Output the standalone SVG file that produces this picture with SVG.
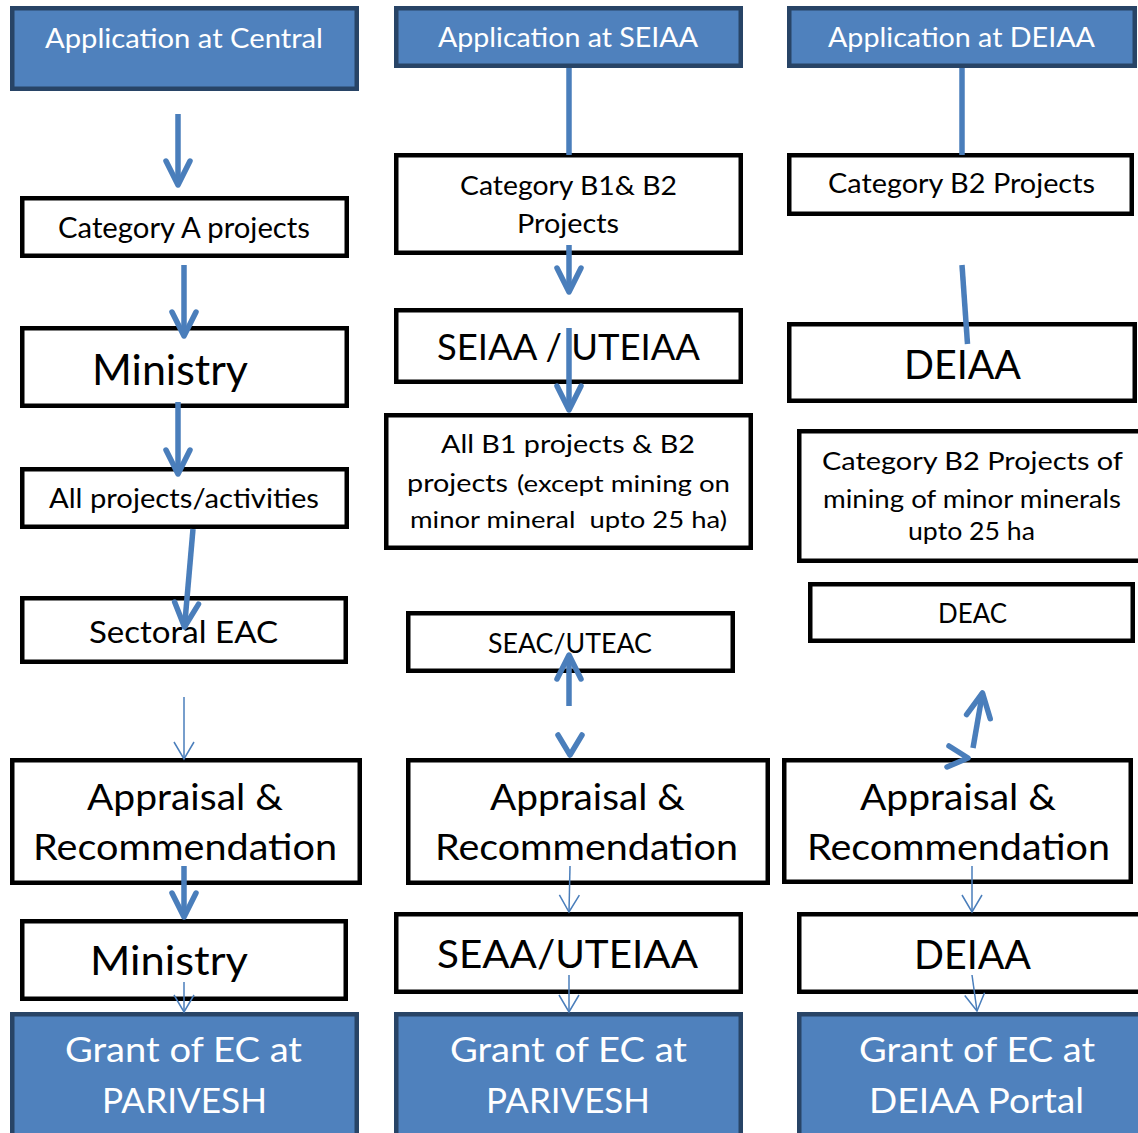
<svg xmlns="http://www.w3.org/2000/svg" width="1138" height="1133" viewBox="0 0 1138 1133">
<style>
.bl{fill:#4F81BD;stroke:#284466;stroke-width:4.5}
.bx{fill:#fff;stroke:#000;stroke-width:4.5}
text{font-family:Lato,"Open Sans","Liberation Sans",sans-serif;fill:#000}
text.w{fill:#fff}
.tk{stroke:#4A7EBB;stroke-width:5.5;fill:none;stroke-linecap:butt;stroke-linejoin:round}
.tn{stroke:#4A7EBB;stroke-width:1.5;fill:none}
.ch{stroke:#4A7EBB;stroke-width:5.5;fill:none;stroke-linecap:round;stroke-linejoin:round}
</style>
<defs>
<marker id="ak" markerUnits="userSpaceOnUse" viewBox="-30 -16 34 32" markerWidth="34" markerHeight="32" refX="0" refY="0" orient="auto" overflow="visible">
<path d="M-24,-12 L0,0 L-24,12" fill="none" stroke="#4A7EBB" stroke-width="5.5" stroke-linecap="round" stroke-linejoin="round"/>
</marker>
<marker id="an" markerUnits="userSpaceOnUse" viewBox="-20 -12 22 24" markerWidth="22" markerHeight="24" refX="0" refY="0" orient="auto" overflow="visible">
<path d="M-17,-10 L0,0 L-17,10" fill="none" stroke="#4A7EBB" stroke-width="1.5"/>
</marker>
</defs>
<rect width="1138" height="1133" fill="#fff"/>

<g id="n1"><rect class="bl" x="12.25" y="8.25" width="344.5" height="80.5"/><text class="w" x="45" y="48" font-size="27" textLength="278" lengthAdjust="spacingAndGlyphs">Application at Central</text></g>
<g id="n2"><rect class="bx" x="22.25" y="198.25" width="324.5" height="57.5"/><text x="58" y="238" font-size="28" textLength="252" lengthAdjust="spacingAndGlyphs">Category A projects</text></g>
<g id="n3"><rect class="bx" x="22.25" y="328.25" width="324.5" height="77.5"/><text x="92" y="385" font-size="42" textLength="156" lengthAdjust="spacingAndGlyphs">Ministry</text></g>
<g id="n4"><rect class="bx" x="22.25" y="469.25" width="324.5" height="57.5"/><text x="49" y="508" font-size="27" textLength="270" lengthAdjust="spacingAndGlyphs">All projects/activities</text></g>
<g id="n5"><rect class="bx" x="22.25" y="598.25" width="323.5" height="63.5"/><text x="89" y="643" font-size="31" textLength="189" lengthAdjust="spacingAndGlyphs">Sectoral EAC</text></g>
<g id="n6"><rect class="bx" x="12.25" y="760.25" width="347.5" height="122.5"/><text x="87" y="810" font-size="36" textLength="196" lengthAdjust="spacingAndGlyphs">Appraisal &amp;</text><text x="33" y="860" font-size="36" textLength="304" lengthAdjust="spacingAndGlyphs">Recommendation</text></g>
<g id="n7"><rect class="bx" x="22.25" y="921.25" width="323.5" height="77.5"/><text x="90" y="975" font-size="40" textLength="158" lengthAdjust="spacingAndGlyphs">Ministry</text></g>
<g id="n8"><rect class="bl" x="12.25" y="1014.25" width="344.5" height="130"/><text class="w" x="65" y="1062" font-size="35" textLength="237" lengthAdjust="spacingAndGlyphs">Grant of EC at</text><text class="w" x="102" y="1113" font-size="35" textLength="165" lengthAdjust="spacingAndGlyphs">PARIVESH</text></g>

<g id="n9"><rect class="bl" x="396.25" y="8.25" width="344.5" height="57.5"/><text class="w" x="438" y="47" font-size="27" textLength="260" lengthAdjust="spacingAndGlyphs">Application at SEIAA</text></g>
<g id="n10"><rect class="bx" x="396.25" y="155.25" width="344.5" height="97.5"/><text x="460" y="195" font-size="26.5" textLength="217" lengthAdjust="spacingAndGlyphs">Category B1&amp; B2</text><text x="517" y="233" font-size="26.5" textLength="102" lengthAdjust="spacingAndGlyphs">Projects</text></g>
<g id="n11"><rect class="bx" x="396.25" y="310.25" width="344.5" height="71.5"/><text x="437" y="360" font-size="37" textLength="263" lengthAdjust="spacingAndGlyphs">SEIAA / UTEIAA</text></g>
<g id="n12"><rect class="bx" x="386.25" y="415.25" width="364.5" height="132.5"/><text x="441" y="453" font-size="25.5" textLength="254" lengthAdjust="spacingAndGlyphs">All B1 projects &amp; B2</text><text x="407" y="492" font-size="25.5" textLength="101" lengthAdjust="spacingAndGlyphs">projects</text><text x="517" y="492" font-size="22.5" textLength="213" lengthAdjust="spacingAndGlyphs">(except mining on</text><text x="410" y="528" font-size="22.5" textLength="317" lengthAdjust="spacingAndGlyphs" xml:space="preserve">minor mineral  upto 25 ha)</text></g>
<g id="n13"><rect class="bx" x="408.25" y="613.25" width="324.5" height="57.5"/><text x="488" y="653" font-size="27" textLength="164" lengthAdjust="spacingAndGlyphs">SEAC/UTEAC</text></g>
<g id="n14"><rect class="bx" x="408.25" y="760.25" width="359.5" height="122.5"/><text x="490" y="810" font-size="36" textLength="195" lengthAdjust="spacingAndGlyphs">Appraisal &amp;</text><text x="435" y="860" font-size="36" textLength="303" lengthAdjust="spacingAndGlyphs">Recommendation</text></g>
<g id="n15"><rect class="bx" x="396.25" y="914.25" width="344.5" height="77.5"/><text x="437" y="968" font-size="39" textLength="261" lengthAdjust="spacingAndGlyphs">SEAA/UTEIAA</text></g>
<g id="n16"><rect class="bl" x="396.25" y="1014.25" width="344.5" height="130"/><text class="w" x="450" y="1062" font-size="35" textLength="237" lengthAdjust="spacingAndGlyphs">Grant of EC at</text><text class="w" x="486" y="1113" font-size="35" textLength="164" lengthAdjust="spacingAndGlyphs">PARIVESH</text></g>

<g id="n17"><rect class="bl" x="789.25" y="8.25" width="345.5" height="57.5"/><text class="w" x="828" y="47" font-size="27" textLength="267" lengthAdjust="spacingAndGlyphs">Application at DEIAA</text></g>
<g id="n18"><rect class="bx" x="789.25" y="155.25" width="342.5" height="58.5"/><text x="828" y="193" font-size="27" textLength="267" lengthAdjust="spacingAndGlyphs">Category B2 Projects</text></g>
<g id="n19"><rect class="bx" x="789.25" y="324.25" width="345.5" height="76.5"/><text x="904" y="379" font-size="40" textLength="117" lengthAdjust="spacingAndGlyphs">DEIAA</text></g>
<g id="n20"><rect class="bx" x="799.25" y="431.25" width="345" height="129.5"/><text x="822" y="470" font-size="25" textLength="301" lengthAdjust="spacingAndGlyphs">Category B2 Projects of</text><text x="823" y="508" font-size="25" textLength="298" lengthAdjust="spacingAndGlyphs">mining of minor minerals</text><text x="908" y="540" font-size="25" textLength="127" lengthAdjust="spacingAndGlyphs">upto 25 ha</text></g>
<g id="n21"><rect class="bx" x="810.25" y="584.25" width="322.5" height="56.5"/><text x="938" y="623" font-size="27" textLength="69" lengthAdjust="spacingAndGlyphs">DEAC</text></g>
<g id="n22"><rect class="bx" x="784.25" y="760.25" width="346.5" height="121.5"/><text x="860" y="810" font-size="36" textLength="196" lengthAdjust="spacingAndGlyphs">Appraisal &amp;</text><text x="807" y="860" font-size="36" textLength="303" lengthAdjust="spacingAndGlyphs">Recommendation</text></g>
<g id="n23"><rect class="bx" x="799.25" y="914.25" width="345" height="77.5"/><text x="914" y="969" font-size="40" textLength="117" lengthAdjust="spacingAndGlyphs">DEIAA</text></g>
<g id="n24"><rect class="bl" x="799.25" y="1014.25" width="345" height="130"/><text class="w" x="859" y="1062" font-size="35" textLength="236" lengthAdjust="spacingAndGlyphs">Grant of EC at</text><text class="w" x="869" y="1113" font-size="35" textLength="215" lengthAdjust="spacingAndGlyphs">DEIAA Portal</text></g>

<g id="connectors">
<line class="tk" x1="178" y1="114" x2="178" y2="185" marker-end="url(#ak)"/>
<line class="tk" x1="184" y1="265" x2="184" y2="336" marker-end="url(#ak)"/>
<line class="tk" x1="178" y1="402" x2="178" y2="474" marker-end="url(#ak)"/>
<line class="tk" x1="193" y1="529" x2="184.5" y2="627" marker-end="url(#ak)"/>
<line class="tn" x1="184" y1="697" x2="184" y2="759" marker-end="url(#an)"/>
<line class="tk" x1="184" y1="866" x2="184" y2="917" marker-end="url(#ak)"/>
<line class="tn" x1="184" y1="982" x2="184" y2="1012" marker-end="url(#an)"/>

<line class="tk" x1="569" y1="68" x2="569" y2="155"/>
<line class="tk" x1="569" y1="245" x2="569" y2="292" marker-end="url(#ak)"/>
<line class="tk" x1="569" y1="328" x2="569" y2="410" marker-end="url(#ak)"/>
<line class="tk" x1="569" y1="706" x2="569" y2="655" marker-end="url(#ak)"/>
<polyline class="ch" points="558,735 570,755 582,735"/>
<line class="tn" x1="570" y1="866" x2="569" y2="912" marker-end="url(#an)"/>
<line class="tn" x1="569" y1="975" x2="569" y2="1012" marker-end="url(#an)"/>

<line class="tk" x1="962" y1="68" x2="962" y2="155"/>
<line class="tk" x1="962" y1="265" x2="967.5" y2="344"/>
<line class="tk" x1="973" y1="748" x2="982.5" y2="693" marker-end="url(#ak)"/>
<polyline class="ch" points="949,746 968,758 947,767"/>
<line class="tn" x1="972" y1="866" x2="972" y2="912" marker-end="url(#an)"/>
<line class="tn" x1="972" y1="975" x2="977" y2="1011" marker-end="url(#an)"/>
</g>
</svg>
